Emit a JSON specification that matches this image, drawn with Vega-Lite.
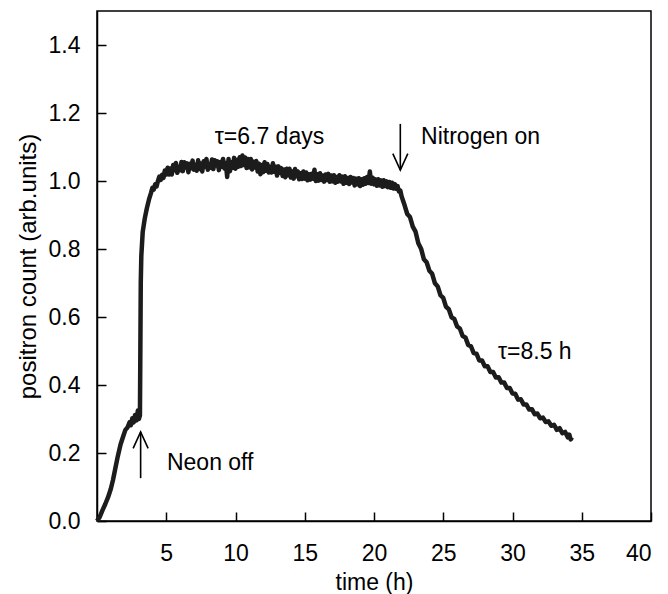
{
  "$schema": "https://vega.github.io/schema/vega-lite/v6.json",
  "width": 554,
  "height": 510,
  "autosize": {"type": "none"},
  "padding": {"left": 97, "top": 11, "right": 17, "bottom": 73},
  "background": "white",
  "config": {
    "view": {"stroke": "black", "strokeWidth": 1.5},
    "font": "Liberation Sans",
    "axis": {
      "grid": false,
      "domainColor": "black",
      "domainWidth": 1.5,
      "tickColor": "black",
      "tickWidth": 1.5,
      "tickSize": -9,
      "labelFont": "Liberation Sans",
      "labelFontSize": 23,
      "labelColor": "black",
      "titleFont": "Liberation Sans",
      "titleFontSize": 23,
      "titleFontWeight": "normal",
      "titleColor": "black"
    }
  },
  "datasets": {
    "curve": [
      {"t": 0, "v": 0}, {"t": 0.2, "v": 0.012}, {"t": 0.4, "v": 0.032}, {"t": 0.6, "v": 0.05}, {"t": 0.8, "v": 0.07},
      {"t": 1.0, "v": 0.095}, {"t": 1.15, "v": 0.12}, {"t": 1.3, "v": 0.15}, {"t": 1.5, "v": 0.19}, {"t": 1.7, "v": 0.225},
      {"t": 1.9, "v": 0.25}, {"t": 2.05, "v": 0.268}, {"t": 2.2, "v": 0.275}, {"t": 2.35, "v": 0.29}, {"t": 2.45, "v": 0.282},
      {"t": 2.55, "v": 0.302}, {"t": 2.65, "v": 0.29}, {"t": 2.75, "v": 0.312}, {"t": 2.85, "v": 0.296}, {"t": 2.95, "v": 0.325},
      {"t": 3.02, "v": 0.3}, {"t": 3.1, "v": 0.31}, {"t": 3.13, "v": 0.5}, {"t": 3.16, "v": 0.7}, {"t": 3.2, "v": 0.78},
      {"t": 3.3, "v": 0.85}, {"t": 3.45, "v": 0.89}, {"t": 3.6, "v": 0.92}, {"t": 3.75, "v": 0.945}, {"t": 3.9, "v": 0.965},
      {"t": 4.0, "v": 0.98}, {"t": 4.1, "v": 0.975}, {"t": 4.2, "v": 0.99}, {"t": 4.3, "v": 0.984}, {"t": 4.4, "v": 1.0},
      {"t": 4.5, "v": 1.013}, {"t": 4.6, "v": 1.003}, {"t": 4.7, "v": 1.018}, {"t": 4.8, "v": 1.009}, {"t": 4.9, "v": 1.031},
      {"t": 5.0, "v": 1.019}, {"t": 5.1, "v": 1.039}, {"t": 5.2, "v": 1.019}, {"t": 5.3, "v": 1.037}, {"t": 5.4, "v": 1.019},
      {"t": 5.5, "v": 1.047}, {"t": 5.6, "v": 1.032}, {"t": 5.7, "v": 1.053}, {"t": 5.8, "v": 1.024}, {"t": 5.9, "v": 1.041},
      {"t": 6.0, "v": 1.032}, {"t": 6.1, "v": 1.056}, {"t": 6.2, "v": 1.029}, {"t": 6.3, "v": 1.055}, {"t": 6.4, "v": 1.04},
      {"t": 6.5, "v": 1.052}, {"t": 6.6, "v": 1.026}, {"t": 6.7, "v": 1.051}, {"t": 6.8, "v": 1.037}, {"t": 6.9, "v": 1.06},
      {"t": 7.0, "v": 1.033}, {"t": 7.1, "v": 1.048}, {"t": 7.2, "v": 1.03}, {"t": 7.3, "v": 1.061}, {"t": 7.4, "v": 1.035},
      {"t": 7.5, "v": 1.051}, {"t": 7.6, "v": 1.028}, {"t": 7.7, "v": 1.058}, {"t": 7.8, "v": 1.042}, {"t": 7.9, "v": 1.065},
      {"t": 8.0, "v": 1.033}, {"t": 8.1, "v": 1.049}, {"t": 8.2, "v": 1.039}, {"t": 8.3, "v": 1.063}, {"t": 8.4, "v": 1.035},
      {"t": 8.5, "v": 1.061}, {"t": 8.6, "v": 1.046}, {"t": 8.7, "v": 1.058}, {"t": 8.8, "v": 1.032}, {"t": 8.9, "v": 1.056},
      {"t": 9.0, "v": 1.042}, {"t": 9.1, "v": 1.065}, {"t": 9.2, "v": 1.037}, {"t": 9.3, "v": 1.053}, {"t": 9.4, "v": 1.012},
      {"t": 9.5, "v": 1.065}, {"t": 9.6, "v": 1.029}, {"t": 9.7, "v": 1.055}, {"t": 9.8, "v": 1.039}, {"t": 9.9, "v": 1.068},
      {"t": 10.0, "v": 1.036}, {"t": 10.1, "v": 1.062}, {"t": 10.2, "v": 1.042}, {"t": 10.3, "v": 1.07}, {"t": 10.4, "v": 1.044},
      {"t": 10.5, "v": 1.075}, {"t": 10.6, "v": 1.047}, {"t": 10.7, "v": 1.069}, {"t": 10.8, "v": 1.038}, {"t": 10.9, "v": 1.065},
      {"t": 11.0, "v": 1.04}, {"t": 11.1, "v": 1.065}, {"t": 11.2, "v": 1.034}, {"t": 11.3, "v": 1.057}, {"t": 11.4, "v": 1.04},
      {"t": 11.5, "v": 1.059}, {"t": 11.6, "v": 1.028}, {"t": 11.7, "v": 1.051}, {"t": 11.8, "v": 1.02}, {"t": 11.9, "v": 1.047},
      {"t": 12.0, "v": 1.026}, {"t": 12.1, "v": 1.055}, {"t": 12.2, "v": 1.03}, {"t": 12.3, "v": 1.05}, {"t": 12.4, "v": 1.025},
      {"t": 12.5, "v": 1.042}, {"t": 12.6, "v": 1.025}, {"t": 12.7, "v": 1.052}, {"t": 12.8, "v": 1.027}, {"t": 12.9, "v": 1.042},
      {"t": 13.0, "v": 1.016}, {"t": 13.1, "v": 1.043}, {"t": 13.2, "v": 1.024}, {"t": 13.3, "v": 1.038}, {"t": 13.4, "v": 1.015},
      {"t": 13.5, "v": 1.034}, {"t": 13.6, "v": 1.011}, {"t": 13.7, "v": 1.036}, {"t": 13.8, "v": 1.017}, {"t": 13.9, "v": 1.036},
      {"t": 14.0, "v": 1.01}, {"t": 14.1, "v": 1.028}, {"t": 14.2, "v": 1.007}, {"t": 14.3, "v": 1.035}, {"t": 14.4, "v": 1.014},
      {"t": 14.5, "v": 1.028}, {"t": 14.6, "v": 1.005}, {"t": 14.7, "v": 1.023}, {"t": 14.8, "v": 1.006}, {"t": 14.9, "v": 1.028},
      {"t": 15.0, "v": 1.007}, {"t": 15.1, "v": 1.025}, {"t": 15.2, "v": 1.002}, {"t": 15.3, "v": 1.02}, {"t": 15.4, "v": 1.004},
      {"t": 15.5, "v": 1.021}, {"t": 15.6, "v": 1.007}, {"t": 15.7, "v": 1.033}, {"t": 15.8, "v": 1.0}, {"t": 15.9, "v": 1.02},
      {"t": 16.0, "v": 1.001}, {"t": 16.1, "v": 1.023}, {"t": 16.2, "v": 1.003}, {"t": 16.3, "v": 1.016}, {"t": 16.4, "v": 0.998},
      {"t": 16.5, "v": 1.019}, {"t": 16.6, "v": 1.003}, {"t": 16.7, "v": 1.021}, {"t": 16.8, "v": 0.998}, {"t": 16.9, "v": 1.016},
      {"t": 17.0, "v": 0.999}, {"t": 17.1, "v": 1.017}, {"t": 17.2, "v": 0.995}, {"t": 17.3, "v": 1.012}, {"t": 17.4, "v": 0.998},
      {"t": 17.5, "v": 1.017}, {"t": 17.6, "v": 0.999}, {"t": 17.7, "v": 1.013}, {"t": 17.8, "v": 0.992}, {"t": 17.9, "v": 1.014},
      {"t": 18.0, "v": 0.995}, {"t": 18.1, "v": 1.009}, {"t": 18.2, "v": 0.991}, {"t": 18.3, "v": 1.012}, {"t": 18.4, "v": 0.996},
      {"t": 18.5, "v": 1.009}, {"t": 18.6, "v": 0.987}, {"t": 18.7, "v": 1.007}, {"t": 18.8, "v": 0.99}, {"t": 18.9, "v": 1.008},
      {"t": 19.0, "v": 0.985}, {"t": 19.1, "v": 1.005}, {"t": 19.2, "v": 0.989}, {"t": 19.3, "v": 1.008}, {"t": 19.4, "v": 0.992},
      {"t": 19.5, "v": 1.012}, {"t": 19.6, "v": 0.994}, {"t": 19.7, "v": 1.028}, {"t": 19.8, "v": 0.992}, {"t": 19.9, "v": 1.01},
      {"t": 20.0, "v": 0.99}, {"t": 20.1, "v": 1.005}, {"t": 20.2, "v": 0.986}, {"t": 20.3, "v": 1.005}, {"t": 20.4, "v": 0.987},
      {"t": 20.5, "v": 1.002}, {"t": 20.6, "v": 0.983}, {"t": 20.7, "v": 1.002}, {"t": 20.8, "v": 0.985}, {"t": 20.9, "v": 0.999},
      {"t": 21.0, "v": 0.982}, {"t": 21.1, "v": 0.997}, {"t": 21.2, "v": 0.98}, {"t": 21.3, "v": 0.995}, {"t": 21.4, "v": 0.978},
      {"t": 21.5, "v": 0.991}, {"t": 21.6, "v": 0.977}, {"t": 21.7, "v": 0.985}, {"t": 21.8, "v": 0.969}, {"t": 21.9, "v": 0.972},
      {"t": 22.0, "v": 0.954}, {"t": 22.1, "v": 0.942}, {"t": 22.2, "v": 0.93}, {"t": 22.4, "v": 0.903}, {"t": 22.6, "v": 0.894},
      {"t": 22.8, "v": 0.866}, {"t": 23.0, "v": 0.851}, {"t": 23.2, "v": 0.817}, {"t": 23.4, "v": 0.801}, {"t": 23.6, "v": 0.77},
      {"t": 23.8, "v": 0.761}, {"t": 24.0, "v": 0.736}, {"t": 24.2, "v": 0.727}, {"t": 24.4, "v": 0.699}, {"t": 24.6, "v": 0.69},
      {"t": 24.8, "v": 0.664}, {"t": 25.0, "v": 0.656}, {"t": 25.2, "v": 0.63}, {"t": 25.4, "v": 0.623}, {"t": 25.6, "v": 0.599},
      {"t": 25.8, "v": 0.594}, {"t": 26.0, "v": 0.572}, {"t": 26.2, "v": 0.566}, {"t": 26.4, "v": 0.544}, {"t": 26.6, "v": 0.54},
      {"t": 26.8, "v": 0.518}, {"t": 27.0, "v": 0.514}, {"t": 27.2, "v": 0.494}, {"t": 27.4, "v": 0.492}, {"t": 27.6, "v": 0.472},
      {"t": 27.8, "v": 0.472}, {"t": 28.0, "v": 0.455}, {"t": 28.2, "v": 0.455}, {"t": 28.4, "v": 0.438}, {"t": 28.6, "v": 0.438},
      {"t": 28.8, "v": 0.422}, {"t": 29.0, "v": 0.423}, {"t": 29.2, "v": 0.407}, {"t": 29.4, "v": 0.407}, {"t": 29.6, "v": 0.391},
      {"t": 29.8, "v": 0.391}, {"t": 30.0, "v": 0.375}, {"t": 30.2, "v": 0.374}, {"t": 30.4, "v": 0.357}, {"t": 30.6, "v": 0.358},
      {"t": 30.8, "v": 0.343}, {"t": 31.0, "v": 0.343}, {"t": 31.2, "v": 0.328}, {"t": 31.4, "v": 0.329}, {"t": 31.6, "v": 0.314},
      {"t": 31.8, "v": 0.316}, {"t": 32.0, "v": 0.302}, {"t": 32.2, "v": 0.304}, {"t": 32.4, "v": 0.291}, {"t": 32.6, "v": 0.293},
      {"t": 32.8, "v": 0.28}, {"t": 33.0, "v": 0.283}, {"t": 33.2, "v": 0.268}, {"t": 33.4, "v": 0.273}, {"t": 33.6, "v": 0.258},
      {"t": 33.8, "v": 0.262}, {"t": 34.0, "v": 0.246}, {"t": 34.1, "v": 0.254}, {"t": 34.2, "v": 0.24}, {"t": 34.3, "v": 0.246}
    ],
    "arrows": [
      {"t": 3.15, "tip": 0.262, "tail": 0.126, "dir": "up"},
      {"t": 21.9, "tip": 1.032, "tail": 1.168, "dir": "down"}
    ],
    "notes": [
      {"t": 8.5, "v": 1.13, "label": "τ=6.7 days"},
      {"t": 23.4, "v": 1.13, "label": "Nitrogen on"},
      {"t": 5.05, "v": 0.17, "label": "Neon off"},
      {"t": 28.95, "v": 0.497, "label": "τ=8.5 h"}
    ]
  },
  "layer": [
    {
      "data": {"name": "curve"},
      "mark": {"type": "line", "color": "#1c1c1c", "strokeWidth": 4.5, "strokeJoin": "round"},
      "encoding": {
        "x": {
          "field": "t", "type": "quantitative",
          "scale": {"domain": [0, 40], "nice": false, "zero": false},
          "axis": {"title": "time (h)", "values": [5, 10, 15, 20, 25, 30, 35, 40], "labelPadding": 30, "titlePadding": 6}
        },
        "y": {
          "field": "v", "type": "quantitative",
          "scale": {"domain": [0, 1.5], "nice": false},
          "axis": {"title": "positron count (arb.units)", "values": [0, 0.2, 0.4, 0.6, 0.8, 1.0, 1.2, 1.4], "format": ".1f", "labelPadding": 26, "titleFontSize": 24, "titleX": -69, "titleY": 255, "titleAngle": 270, "titleAlign": "center", "titleBaseline": "middle"}
        }
      }
    },
    {
      "data": {"name": "arrows"},
      "mark": {"type": "rule", "color": "black", "strokeWidth": 1.6},
      "encoding": {
        "x": {"field": "t", "type": "quantitative"},
        "y": {"field": "tip", "type": "quantitative"},
        "y2": {"field": "tail"}
      }
    },
    {
      "data": {"name": "arrows"},
      "transform": [{"filter": "datum.dir === 'up'"}],
      "mark": {"type": "point", "shape": "M-1,2.2L0,0L1,2.2", "size": 225, "filled": false, "stroke": "black", "strokeWidth": 1.6, "opacity": 1},
      "encoding": {
        "x": {"field": "t", "type": "quantitative"},
        "y": {"field": "tip", "type": "quantitative"}
      }
    },
    {
      "data": {"name": "arrows"},
      "transform": [{"filter": "datum.dir === 'down'"}],
      "mark": {"type": "point", "shape": "M-1,-2.2L0,0L1,-2.2", "size": 225, "filled": false, "stroke": "black", "strokeWidth": 1.6, "opacity": 1},
      "encoding": {
        "x": {"field": "t", "type": "quantitative"},
        "y": {"field": "tip", "type": "quantitative"}
      }
    },
    {
      "data": {"name": "notes"},
      "mark": {"type": "text", "align": "left", "baseline": "middle", "font": "Liberation Sans", "fontSize": 23, "color": "black"},
      "encoding": {
        "x": {"field": "t", "type": "quantitative"},
        "y": {"field": "v", "type": "quantitative"},
        "text": {"field": "label"}
      }
    }
  ]
}
